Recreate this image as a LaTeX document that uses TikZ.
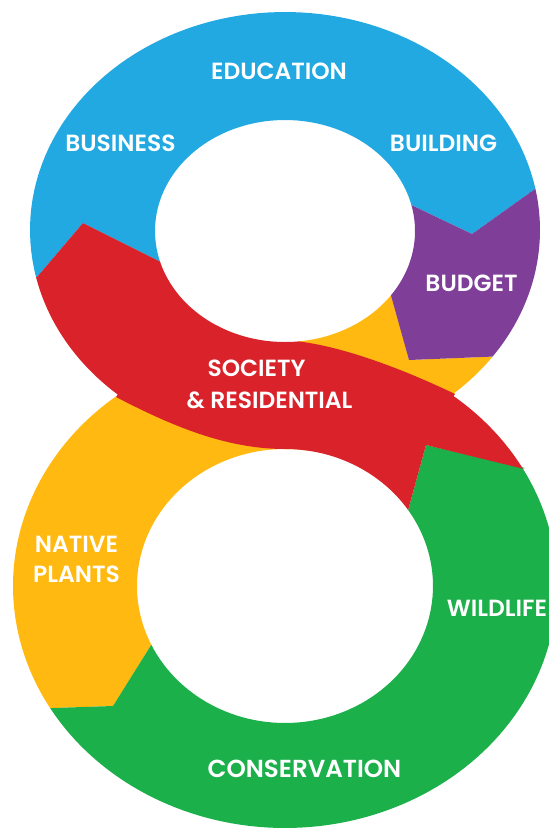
\documentclass[tikz,border=0pt]{standalone}
\usepackage{fontspec}
\setmainfont{Poppins}[BoldFont={Poppins SemiBold}]
\definecolor{cblue}{HTML}{23A9E1}
\definecolor{cpurple}{HTML}{7F3F98}
\definecolor{corange}{HTML}{FFB911}
\definecolor{cred}{HTML}{D9222A}
\definecolor{cgreen}{HTML}{1CB04B}
\tikzset{
  lab/.style={text=white,inner sep=0pt,font=\fontsize{23.4}{24}\selectfont\bfseries,anchor=center},
  labbig/.style={lab,font=\fontsize{24.6}{25}\selectfont\bfseries},
  part/.style={draw=none},
}
% ellipse arcs, angle measured clockwise on the page since y points down
\newcommand{\OT}[2]{-- plot[domain=#1:#2,samples=80] ({285+255*cos(\x)},{230+218*sin(\x)})}
\newcommand{\HT}[2]{-- plot[domain=#1:#2,samples=80] ({285+130*cos(\x)},{231+111*sin(\x)})}
\newcommand{\OB}[2]{-- plot[domain=#1:#2,samples=100] ({285+272*cos(\x)},{586+242*sin(\x)})}
\newcommand{\HB}[2]{-- plot[domain=#1:#2,samples=80] ({285+148*cos(\x)},{586+137*sin(\x)})}
\begin{document}
\begin{tikzpicture}[x=1pt,y=-1pt]
\useasboundingbox (0,0) rectangle (549,828);
\clip (0,0) rectangle (549,828);
% orange
\fill[corange,part] (455,394) \OT{48.4}{35.5} -- (409,360) -- (392,296) \HT{35.4}{84} -- (380,385) -- cycle;
\fill[corange,part] (116,397) \OB{231.6}{149.7} -- (113,706) \HB{154.6}{280} -- (200,430) -- cycle;
% blue
\fill[cblue,part] (37,277) \OT{167.5}{349.1} -- (472,234) \HT{-13.5}{-196} -- (83,223) -- cycle;
% purple
\fill[cpurple,part] (535,189) \OT{-10.9}{35.5} -- (409,360) \HT{35.4}{-13.5} -- (472,234) -- cycle;
% green
\fill[cgreen,part] (525,468) \OB{-29}{149.7} -- (113,706) \HB{154.6}{-33.7} -- (426,445) -- cycle;
% red
\fill[cred,part] (37,277) -- (83,223) \HT{164}{84} .. controls (345,347) and (405,370) .. (455,394)
  \OB{-51.7}{-29} -- (426,445) \HB{-33.7}{-90} .. controls (225,449) and (170,425) .. (116,397)
  \OT{131}{167.5} -- cycle;
% labels
\node[lab] (edu) at (279,71.5) {EDUCATION};
\node[lab] (bus) at (120.5,143.5) {BUSINESS};
\node[lab] (bui) at (443.5,143.5) {BUILDING};
\node[lab] (bud) at (471.5,283.5) {BUDGET};
\node[lab] (soc) at (256.5,368.5) {SOCIETY};
\node[lab] (res) at (269.5,400.5) {\& RESIDENTIAL};
\node[lab] (nat) at (76.5,544.5) {NATIVE};
\node[lab] (pla) at (76.5,574.5) {PLANTS};
\node[lab] (wil) at (497,608.5) {WILDLIFE};
\node[labbig] (con) at (304.5,768.5) {CONSERVATION};
\end{tikzpicture}
\end{document}
